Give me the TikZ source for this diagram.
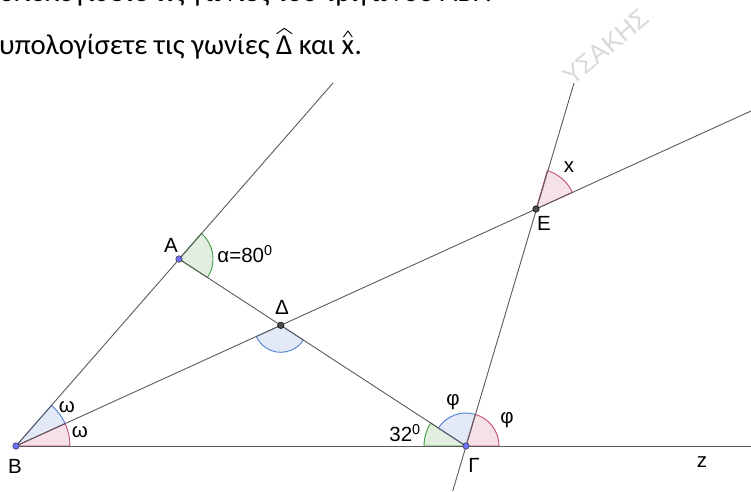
\documentclass[tikz,border=0pt]{standalone}
\usepackage{fontspec}
\setmainfont{Liberation Sans}
\newfontfamily\txtfont{Carlito}
\usetikzlibrary{calc}
\definecolor{lngray}{HTML}{5A5A5A}
\definecolor{bluest}{HTML}{4F7FD6}
\definecolor{bluefill}{HTML}{E3E9F6}
\definecolor{redst}{HTML}{C0506A}
\definecolor{redfill}{HTML}{F5E1E7}
\definecolor{greenst}{HTML}{3F9A3F}
\definecolor{greenfill}{HTML}{E2EFE0}
\definecolor{ptblue}{HTML}{7070FF}
\tikzset{
  txt/.style={font=\txtfont\fontsize{28.8}{32}\selectfont, anchor=base west, inner sep=0pt},
  lbl/.style={font=\fontsize{20.5}{24}\selectfont, inner sep=0pt},
  geoline/.style={draw=lngray, line width=0.9pt},
  hatmark/.style={draw=black, line width=0.9pt},
  bluesec/.style={fill=bluefill, draw=bluest, line width=0.9pt},
  redsec/.style={fill=redfill, draw=redst, line width=0.9pt},
  greensec/.style={fill=greenfill, draw=greenst, line width=0.9pt},
  bluept/.style={circle, fill=ptblue, draw=black!80, line width=0.5pt, minimum size=6.5pt, inner sep=0pt},
  darkpt/.style={circle, fill=black!70, draw=black, line width=0.5pt, minimum size=6.5pt, inner sep=0pt}
}
\begin{document}
\begin{tikzpicture}[x=1pt,y=1pt]
\useasboundingbox (0,0) rectangle (751,491);
\clip (0,0) rectangle (751,491);
% points
\coordinate (B) at (16,45);
\coordinate (G) at (466,45);
\coordinate (A) at (179,232);
\coordinate (E) at (536,282);
\coordinate (D) at (intersection of B--E and A--G);
\coordinate (BAend) at (333,408);
\coordinate (GEtop) at (574,408);
\coordinate (GEbot) at (452.7,0);
\coordinate (BEend) at (751,380);
\coordinate (BGend) at (751,45);
% text
\node[txt] (l1) at (-1,489) {υπολογίσετε τις γωνίες του τριγώνου ΑΒΓ.};
\node[txt] (l2a) at (-1,436) {υπολογίσετε τις γωνίες};
\node[txt] (l2d) at ($(l2a.base east)+(6,0)$) {Δ};
\node[txt] (l2b) at ($(l2d.base east)+(6,0)$) {και};
\node[txt] (l2x) at ($(l2b.base east)+(6,0)$) {x};
\node[txt] (l2p) at (l2x.base east) {.};
\draw[hatmark] ($(l2d.north west)+(0.5,2.5)$) -- ($(l2d.north)+(0,8)$) -- ($(l2d.north east)+(-0.5,2.5)$);
\draw[hatmark] ($(l2x.north west)+(2,4)$) -- ($(l2x.north)+(0,10)$) -- ($(l2x.north east)+(-2,4)$);
\node[rotate=40, text=black!15, font=\fontsize{26}{28}\selectfont] (wm) at (606,444) {ΥΣΑΚΗΣ};
% sectors
\draw[bluesec] (B) -- ++(24.5:54) arc[start angle=24.5, end angle=48.87, radius=54] -- cycle;
\draw[redsec] (B) -- ++(0:54) arc[start angle=0, end angle=24.5, radius=54] -- cycle;
\draw[greensec] (A) -- ++(-33.08:34) arc[start angle=-33.08, end angle=48.87, radius=34] -- cycle;
\draw[bluesec] (D) -- ++(204.5:27) arc[start angle=204.5, end angle=326.92, radius=27] -- cycle;
\draw[greensec] (G) -- ++(146.92:42) arc[start angle=146.92, end angle=180, radius=42] -- cycle;
\draw[bluesec] (G) -- ++(73.55:33) arc[start angle=73.55, end angle=146.92, radius=33] -- cycle;
\draw[redsec] (G) -- ++(0:33) arc[start angle=0, end angle=73.55, radius=33] -- cycle;
\draw[redsec] (E) -- ++(24.5:40) arc[start angle=24.5, end angle=73.55, radius=40] -- cycle;
% lines
\draw[geoline] (B) -- (BAend);
\draw[geoline] (B) -- (BEend);
\draw[geoline] (B) -- (BGend);
\draw[geoline] (A) -- (G);
\draw[geoline] (GEbot) -- (GEtop);
% point markers
\node[bluept] (pB) at (B) {};
\node[bluept] (pG) at (G) {};
\node[bluept] (pA) at (A) {};
\node[darkpt] (pD) at (D) {};
\node[darkpt] (pE) at (E) {};
% labels
\node[lbl] (tB) at (15,25) {B};
\node[lbl] (tw1) at (67,84) {ω};
\node[lbl] (tw2) at (80,59) {ω};
\node[lbl] (tG) at (474,26) {Γ};
\node[lbl] (tf1) at (453,89) {φ};
\node[lbl] (tf2) at (507,71) {φ};
\node[lbl] (t32) at (405,58) {32\textsuperscript{0}};
\node[lbl] (tA) at (171,246) {A};
\node[lbl] (talpha) at (245,237) {α=80\textsuperscript{0}};
\node[lbl] (tD) at (282,184) {Δ};
\node[lbl] (tE) at (544,268) {E};
\node[lbl] (tx) at (569,324) {x};
\node[lbl] (tz) at (702,29) {z};
\end{tikzpicture}
\end{document}
